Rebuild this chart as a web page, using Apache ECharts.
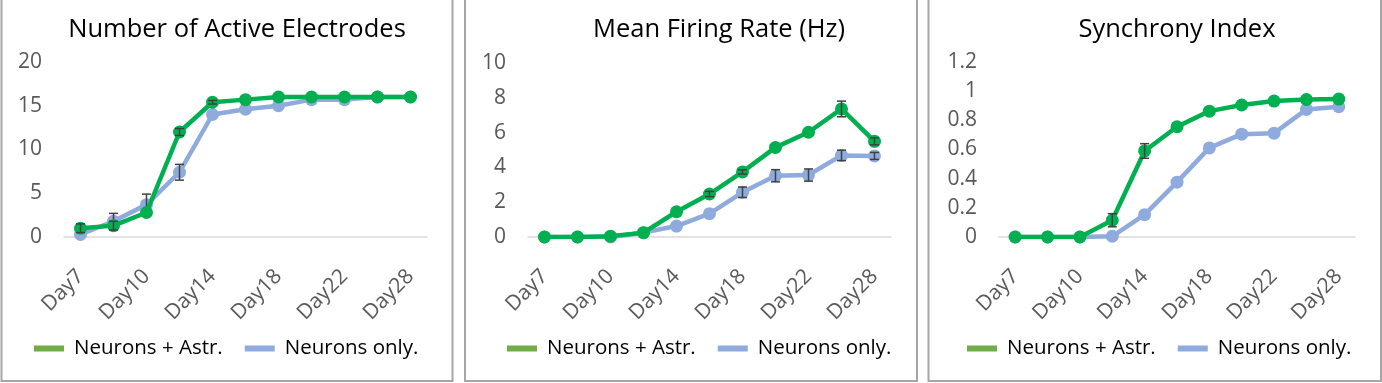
<!DOCTYPE html>
<html>
<head>
<meta charset="utf-8">
<script src="https://cdn.jsdelivr.net/npm/echarts@6/dist/echarts.min.js"></script>
<style>
html,body{margin:0;padding:0;background:#fff;}
#c{width:1382px;height:383px;}
</style>
</head>
<body>
<div id="c"></div>
<script>
// ---- data ----
const categories = ['Day7','Day9','Day10','Day12','Day14','Day16','Day18','Day20','Day22','Day25','Day28'];
const seriesNames = ['Neurons + Astr.', 'Neurons only.'];
const titles = ['Number of Active Electrodes', 'Mean Firing Rate (Hz)', 'Synchrony Index'];

// Panel 1: Number of Active Electrodes
const electrodesAstr = [1.0, 1.3, 2.8, 12.0, 15.4, 15.7, 16.0, 16.0, 16.0, 16.0, 16.0];
const electrodesAstrErr = [0.5, 0.5, 0, 0.4, 0.2, 0, 0, 0, 0, 0, 0];
const electrodesOnly = [0.3, 1.8, 3.7, 7.4, 14.0, 14.6, 15.0, 15.7, 15.7, 16.0, 16.0];
const electrodesOnlyErr = [0, 0.9, 1.2, 0.9, 0, 0, 0, 0, 0, 0, 0];
const electrodesTicks = {max: 20, interval: 5};

// Panel 2: Mean Firing Rate (Hz)
const firingAstr = [0.0, 0.0, 0.05, 0.25, 1.45, 2.47, 3.74, 5.15, 6.02, 7.36, 5.5];
const firingAstrErr = [0, 0, 0, 0, 0, 0.15, 0.12, 0, 0, 0.45, 0.2];
const firingOnly = [0.0, 0.0, 0.0, 0.25, 0.63, 1.34, 2.57, 3.52, 3.56, 4.69, 4.66];
const firingOnlyErr = [0, 0, 0, 0, 0, 0, 0.3, 0.35, 0.35, 0.3, 0.2];
const firingTicks = {max: 10, interval: 2};

// Panel 3: Synchrony Index
const syncAstr = [0.0, 0.0, 0.0, 0.115, 0.59, 0.756, 0.863, 0.905, 0.932, 0.943, 0.946];
const syncAstrErr = [0, 0, 0, 0.045, 0.05, 0, 0, 0, 0, 0, 0];
const syncOnly = [0.0, 0.0, 0.0, 0.005, 0.153, 0.376, 0.611, 0.705, 0.712, 0.875, 0.893];
const syncOnlyErr = [0, 0, 0, 0, 0, 0, 0, 0, 0, 0, 0];
const syncTicks = {max: 1.2, interval: 0.2};

// ---- styling / layout ----
const FONT = '"Open Sans", "Noto Sans", sans-serif';
const GREEN = '#00b050', GREEN_LEG = '#70ad47';
const BLUE = '#8faadc';
const ERR = '#404040';

const panels = [
  {astr: electrodesAstr, astrErr: electrodesAstrErr, only: electrodesOnly, onlyErr: electrodesOnlyErr, ticks: electrodesTicks,
   grid: {left: 64, top: 62, width: 363, height: 175}, titleX: 232, legendX: 29, box: [1.5, 452.5]},
  {astr: firingAstr, astrErr: firingAstrErr, only: firingOnly, onlyErr: firingOnlyErr, ticks: firingTicks,
   grid: {left: 528, top: 63, width: 363, height: 174}, titleX: 714, legendX: 502, box: [465, 917]},
  {astr: syncAstr, astrErr: syncAstrErr, only: syncOnly, onlyErr: syncOnlyErr, ticks: syncTicks,
   grid: {left: 999, top: 62, width: 356, height: 175}, titleX: 1172, legendX: 962, box: [928.5, 1381]}
];

const option = {
  animation: false,
  backgroundColor: '#fff',
  textStyle: {fontFamily: FONT},
  title: [], legend: [], grid: [], xAxis: [], yAxis: [], series: [], graphic: []
};

function errSeries(i, vals, errs, z) {
  const data = vals.map((v, k) => [k, v, errs[k]]);
  return {
    type: 'custom', xAxisIndex: i, yAxisIndex: i, z: z, silent: true,
    data: data,
    renderItem: function (params, api) {
      const k = api.value(0), v = api.value(1), e = api.value(2);
      if (!e) return null;
      const top = api.coord([k, v + e]);
      const bot = api.coord([k, v - e]);
      const hw = 4.5;
      const st = {stroke: ERR, lineWidth: 1.5};
      return {
        type: 'group',
        children: [
          {type: 'line', shape: {x1: top[0], y1: top[1], x2: bot[0], y2: bot[1]}, style: st},
          {type: 'line', shape: {x1: top[0] - hw, y1: top[1], x2: top[0] + hw, y2: top[1]}, style: st},
          {type: 'line', shape: {x1: bot[0] - hw, y1: bot[1], x2: bot[0] + hw, y2: bot[1]}, style: st}
        ]
      };
    },
    encode: {x: 0, y: 1}
  };
}

panels.forEach((p, i) => {
  option.title.push({
    text: titles[i], left: p.titleX, top: 12, textAlign: 'center',
    textStyle: {fontFamily: FONT, fontSize: 25.5, fontWeight: 'normal', color: '#000'}
  });
  option.legend.push({
    left: p.legendX, top: 333, itemGap: 22, itemWidth: 30, itemHeight: 6, icon: 'rect',
    textStyle: {fontFamily: FONT, fontSize: 20.5, color: '#000', padding: [0, 0, 0, 5]},
    data: [
      {name: seriesNames[0], itemStyle: {color: GREEN_LEG}},
      {name: seriesNames[1], itemStyle: {color: BLUE}}
    ],
    selectedMode: false
  });
  option.grid.push(Object.assign({containLabel: false}, p.grid));
  option.xAxis.push({
    type: 'category', gridIndex: i, data: categories, boundaryGap: true,
    axisLine: {lineStyle: {color: '#d9d9d9', width: 1.5}},
    axisTick: {show: false},
    axisLabel: {interval: 1, rotate: 45, fontFamily: FONT, fontSize: 21, color: '#595959', margin: 36}
  });
  option.yAxis.push({
    type: 'value', gridIndex: i, min: 0, max: p.ticks.max, interval: p.ticks.interval,
    axisLine: {show: false}, axisTick: {show: false}, splitLine: {show: false},
    axisLabel: {fontFamily: FONT, fontSize: 21, color: '#595959', margin: 22}
  });
  option.series.push({
    name: seriesNames[1], type: 'line', xAxisIndex: i, yAxisIndex: i, data: p.only,
    symbol: 'circle', symbolSize: 13, z: 2,
    lineStyle: {color: BLUE, width: 4.5}, itemStyle: {color: BLUE}
  });
  option.series.push(errSeries(i, p.only, p.onlyErr, 3));
  option.series.push({
    name: seriesNames[0], type: 'line', xAxisIndex: i, yAxisIndex: i, data: p.astr,
    symbol: 'circle', symbolSize: 13, z: 4,
    lineStyle: {color: GREEN, width: 4.5}, itemStyle: {color: GREEN}
  });
  option.series.push(errSeries(i, p.astr, p.astrErr, 5));
  option.graphic.push({
    type: 'rect', silent: true, z: 100,
    shape: {x: p.box[0], y: -3, width: p.box[1] - p.box[0], height: 384},
    style: {fill: 'none', stroke: '#a6a6a6', lineWidth: 2}
  });
});

const chart = echarts.init(document.getElementById('c'), null, {renderer: 'canvas'});
chart.setOption(option);
</script>
</body>
</html>
